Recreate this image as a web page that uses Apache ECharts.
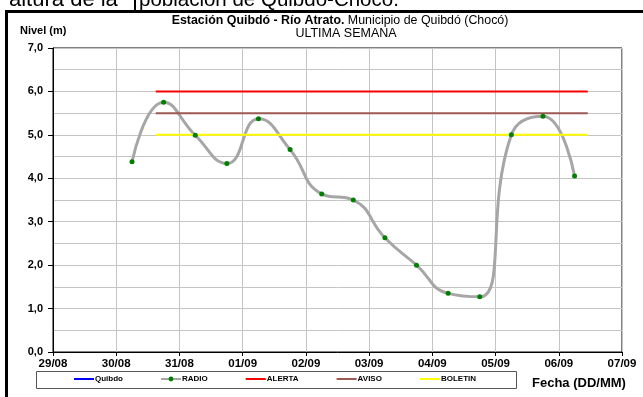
<!DOCTYPE html>
<html>
<head>
<meta charset="utf-8">
<script src="https://cdn.jsdelivr.net/npm/echarts@6/dist/echarts.min.js"></script>
<style>
html,body{margin:0;padding:0;background:#fff;}
#c{width:643px;height:397px;}
</style>
</head>
<body>
<div id="c"></div>
<script>
// ---- data ----
const tickLabels = ['29/08','30/08','31/08','01/09','02/09','03/09','04/09','05/09','06/09','07/09'];
const yTicks = [0,1,2,3,4,5,6,7];
const radioTimes = ['30/08 06:00','30/08 18:00','31/08 06:00','31/08 18:00','01/09 06:00','01/09 18:00',
  '02/09 06:00','02/09 18:00','03/09 06:00','03/09 18:00','04/09 06:00','04/09 18:00',
  '05/09 06:00','05/09 18:00','06/09 06:00'];
const radioLevels = [4.38,5.75,4.99,4.34,5.37,4.66,3.64,3.50,2.63,2.00,1.35,1.27,5.00,5.43,4.05];
const thresholdSpan = ['30/08 15:00','06/09 11:00'];
const alertaLevel = 6.0;
const avisoLevel = 5.5;
const boletinLevel = 5.0;
const quibdoLevels = [];
const seriesNames = ['Quibdo','RADIO','ALERTA','AVISO','BOLETIN'];

function toDay(s){
  const [d,t] = s.split(' ');
  const [h,m] = t.split(':').map(Number);
  return tickLabels.indexOf(d) + h/24 + m/1440;
}
const radioData = radioTimes.map((t,i)=>[toDay(t), radioLevels[i]]);
const span = thresholdSpan.map(toDay);
const lvl = v => span.map(x=>[x,v]);

const FONT = 'Liberation Sans, Arial, sans-serif';
const chart = echarts.init(document.getElementById('c'), null, {renderer:'canvas'});
const grey = '#c4c4c4';
const hidden = {opacity:0};
chart.setOption({
  animation:false,
  textStyle:{fontFamily:FONT},
  grid:{left:53,right:21,top:48,bottom:45,show:true,borderColor:'#000',borderWidth:1,backgroundColor:'transparent'},
  xAxis:{type:'value',min:0,max:tickLabels.length-1,interval:1,
    axisLine:{lineStyle:{color:'#000',width:1}},
    axisTick:{show:true,length:4,lineStyle:{color:'#000'}},
    splitLine:{show:true,lineStyle:{color:grey,width:1}},
    axisLabel:{margin:6,fontSize:11.5,fontWeight:'bold',color:'#000',fontFamily:FONT,
      formatter:v=>tickLabels[Math.round(v)]||''}
  },
  yAxis:{type:'value',min:yTicks[0],max:yTicks[yTicks.length-1],interval:1,
    axisLine:{show:true,lineStyle:{color:'#000',width:1}},
    axisTick:{show:true,length:5,lineStyle:{color:'#000'}},
    splitLine:{show:true,lineStyle:{color:grey,width:1}},
    minorTick:{show:false,splitNumber:2},
    minorSplitLine:{show:true,lineStyle:{color:grey,width:1}},
    axisLabel:{margin:10,fontSize:11,fontWeight:'bold',color:'#000',fontFamily:FONT,
      formatter:v=>v.toFixed(1).replace('.',',')}
  },
  legend:{left:73,top:375,itemWidth:20,itemHeight:6,itemGap:37,padding:0,
    textStyle:{fontSize:8,fontWeight:'bold',color:'#000',fontFamily:FONT,padding:[0,0,0,-4]},
    data:[
      {name:seriesNames[0],itemStyle:hidden},
      {name:seriesNames[1]},
      {name:seriesNames[2],itemStyle:hidden},
      {name:seriesNames[3],itemStyle:hidden},
      {name:seriesNames[4],itemStyle:hidden}
    ]},
  series:[
    {name:seriesNames[0],type:'line',data:quibdoLevels,color:'#0000ff',lineStyle:{width:3,color:'#0000ff'},symbol:'none'},
    {name:seriesNames[1],type:'line',data:radioData,smooth:0.5,color:'#008000',
      lineStyle:{width:3,color:'#a6a6a6'},symbol:'circle',symbolSize:5,
      itemStyle:{color:'#008000',borderWidth:0}},
    {name:seriesNames[2],type:'line',data:lvl(alertaLevel),color:'#ff0000',lineStyle:{width:2,color:'#ff0000'},symbol:'none'},
    {name:seriesNames[3],type:'line',data:lvl(avisoLevel),color:'#9c5a55',lineStyle:{width:2,color:'#9c5a55'},symbol:'none'},
    {name:seriesNames[4],type:'line',data:lvl(boletinLevel),color:'#ffff00',lineStyle:{width:2,color:'#ffff00'},symbol:'none'}
  ],
  graphic:[
    {type:'text',left:9,top:-11,style:{text:'altura de la',fontSize:22,fontFamily:FONT,fill:'#000'}},
    {type:'text',left:139,top:-10,style:{text:'población de Quibdó-Chocó.',fontSize:20.5,fontFamily:FONT,fill:'#000'}},
    {type:'rect',shape:{x:134,y:0,width:2,height:12},style:{fill:'#000'}},
    {type:'rect',shape:{x:5,y:10,width:640,height:3},style:{fill:'#000'}},
    {type:'rect',shape:{x:5,y:10,width:3,height:390},style:{fill:'#000'}},
    {type:'text',x:340,y:21,style:{
      text:'{b|Estación Quibdó - Río Atrato.}{n| Municipio de Quibdó (Chocó)}',
      align:'center',verticalAlign:'middle',
      rich:{b:{fontSize:12.4,fontWeight:'bold',fontFamily:FONT,fill:'#000'},n:{fontSize:12.4,fontFamily:FONT,fill:'#000'}}}},
    {type:'text',x:346,y:34,style:{text:'ULTIMA SEMANA',align:'center',verticalAlign:'middle',fontSize:12.5,fontFamily:FONT,fill:'#000'}},
    {type:'text',x:20,y:31,style:{text:'Nivel (m)',verticalAlign:'middle',fontSize:11,fontWeight:'bold',fontFamily:FONT,fill:'#000'}},
    {type:'text',x:532,y:383,style:{text:'Fecha (DD/MM)',verticalAlign:'middle',fontSize:13,fontWeight:'bold',fontFamily:FONT,fill:'#000'}},
    {type:'rect',shape:{x:36.5,y:371.5,width:480,height:17},style:{fill:'none',stroke:'#555',lineWidth:1},z:-1}
  ]
});
</script>
</body>
</html>
